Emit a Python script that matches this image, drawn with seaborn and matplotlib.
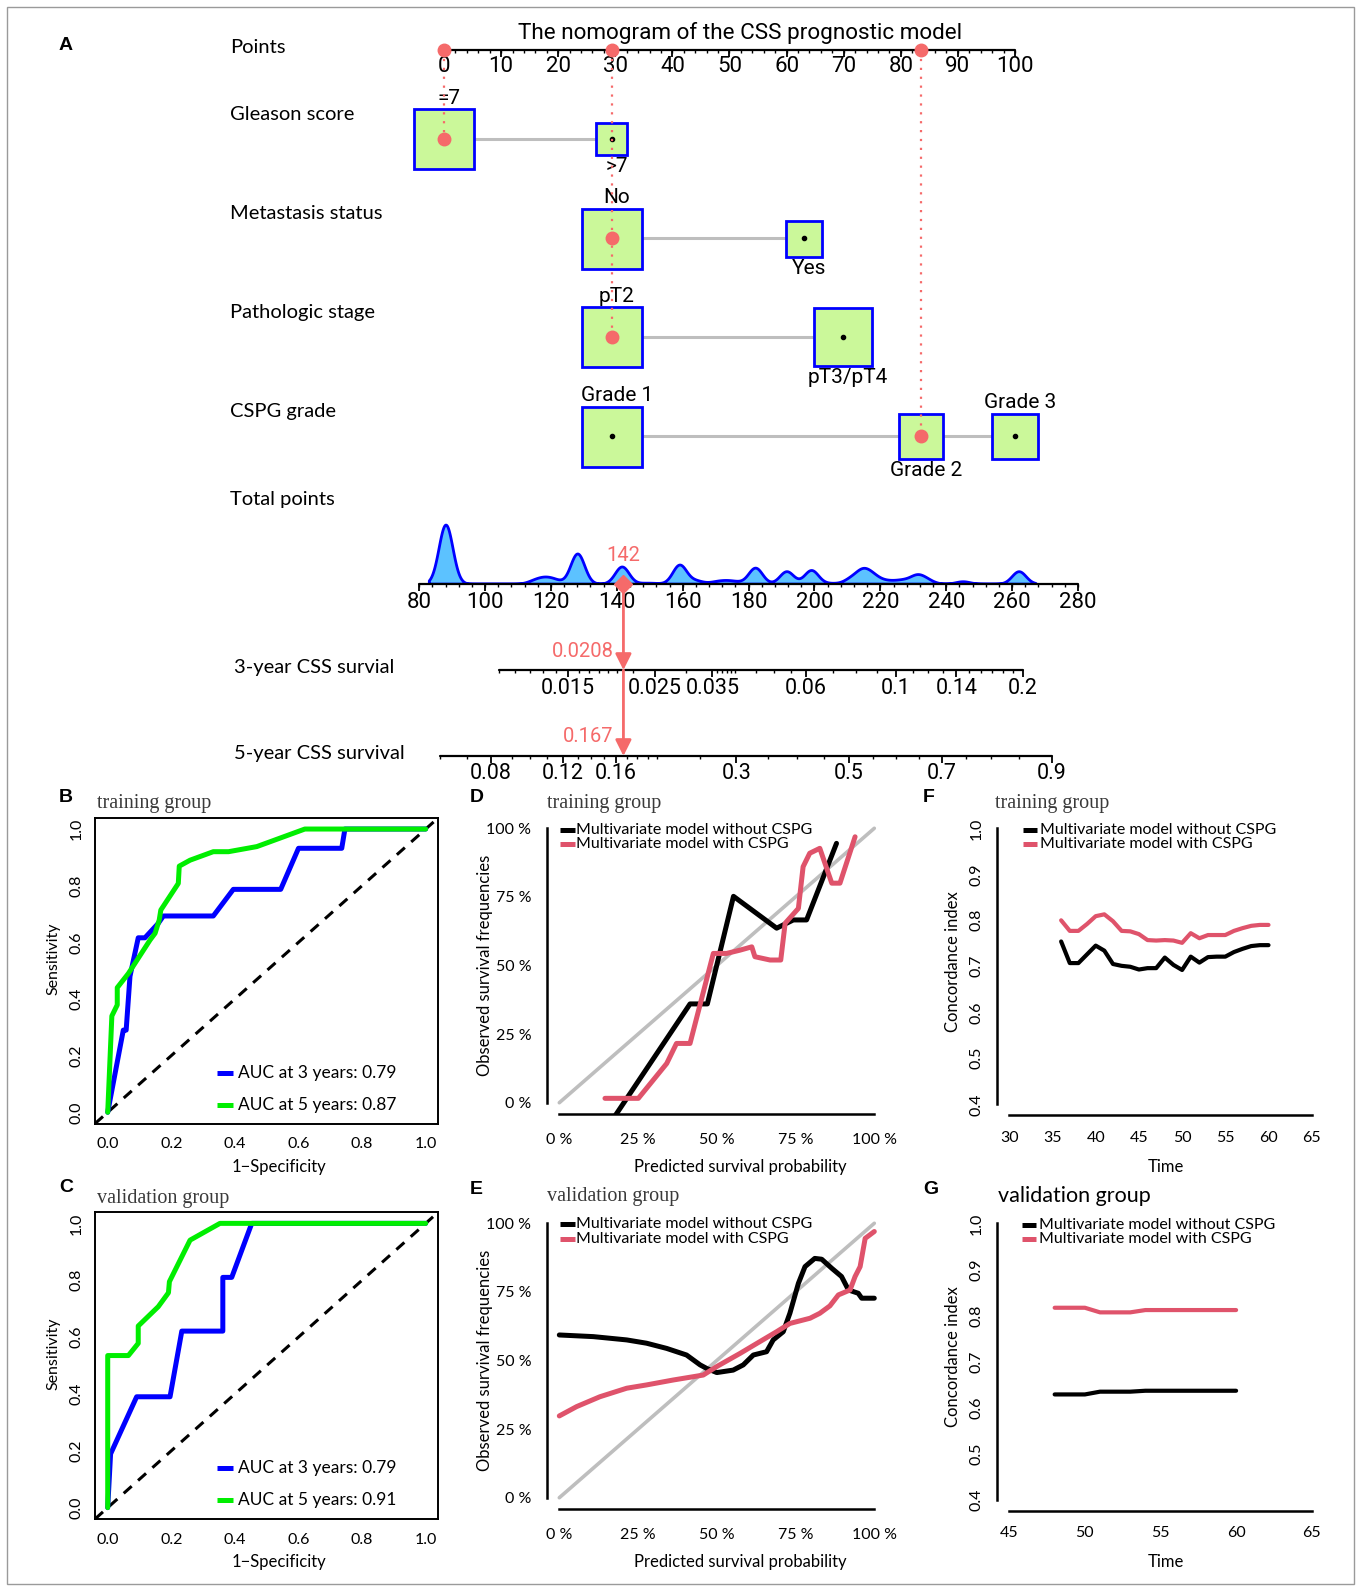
import numpy as np
import pandas as pd
import matplotlib
matplotlib.use("Agg")
import matplotlib.pyplot as plt
from matplotlib.lines import Line2D
from matplotlib.patches import Rectangle
import seaborn as sns

# ======================= DATA =======================
nomogram_title = "The nomogram of the CSS prognostic model"
points_ticks = [0, 10, 20, 30, 40, 50, 60, 70, 80, 90, 100]

row_names = ["Gleason score", "Metastasis status", "Pathologic stage", "CSPG grade"]
gleason_levels = ["=7", ">7"]
gleason_points = [0.0, 29.4]
gleason_box = [1.0, 0.52]
metastasis_levels = ["No", "Yes"]
metastasis_points = [29.4, 63.0]
metastasis_box = [1.0, 0.60]
stage_levels = ["pT2", "pT3/pT4"]
stage_points = [29.4, 69.9]
stage_box = [1.0, 0.97]
cspg_levels = ["Grade 1", "Grade 2", "Grade 3"]
cspg_points = [29.4, 83.5, 100.0]
cspg_box = [1.0, 0.74, 0.76]
selected_level = [0, 0, 0, 1]

total_ticks = [80, 100, 120, 140, 160, 180, 200, 220, 240, 260, 280]
total_values = [88, 115, 118, 121, 128, 141.5, 148, 151, 159, 164, 170, 173, 176, 182,
                191.5, 199, 205, 211, 214.5, 217.5, 221, 224, 227, 231, 234, 245, 262]
total_counts = [100, 5, 8, 6, 51, 29, 1, 1, 32, 5, 3, 4, 3, 27,
                21, 23, 1, 8, 20, 12, 4, 3, 5, 13, 6, 4, 21]
total_selected = 142
surv3_selected = "0.0208"
surv5_selected = "0.167"
surv3_labels = [0.015, 0.025, 0.035, 0.06, 0.1, 0.14, 0.2]
surv3_minor = [0.01, 0.011, 0.012, 0.013, 0.014, 0.016, 0.017, 0.018, 0.019, 0.02, 0.022,
               0.03, 0.036, 0.037, 0.038, 0.039, 0.04, 0.045, 0.05, 0.055, 0.07, 0.08,
               0.09, 0.11, 0.12, 0.13, 0.15, 0.16, 0.17, 0.18, 0.19]
surv5_labels = [0.08, 0.12, 0.16, 0.3, 0.5, 0.7, 0.9]
surv5_minor = [0.06, 0.07, 0.09, 0.1, 0.11, 0.13, 0.14, 0.15, 0.17, 0.18, 0.19, 0.2,
               0.25, 0.35, 0.4, 0.45, 0.55, 0.6, 0.65, 0.75, 0.8, 0.85]

# ROC (B: training, C: validation)
b_fpr3 = [0, 0.049, 0.058, 0.07, 0.096, 0.117, 0.159, 0.175, 0.332, 0.395, 0.544, 0.60, 0.736, 0.746, 1.0]
b_tpr3 = [0, 0.29, 0.29, 0.48, 0.616, 0.616, 0.667, 0.693, 0.693, 0.787, 0.787, 0.932, 0.932, 1.0, 1.0]
b_fpr5 = [0, 0.013, 0.03, 0.03, 0.065, 0.133, 0.149, 0.162, 0.167, 0.222, 0.225, 0.259, 0.332, 0.38, 0.469, 0.62, 1.0]
b_tpr5 = [0, 0.34, 0.379, 0.44, 0.49, 0.608, 0.632, 0.679, 0.714, 0.808, 0.869, 0.89, 0.92, 0.92, 0.938, 1.0, 1.0]
c_fpr3 = [0, 0.009, 0.091, 0.196, 0.233, 0.362, 0.362, 0.39, 0.453, 1.0]
c_tpr3 = [0, 0.189, 0.39, 0.39, 0.621, 0.621, 0.81, 0.81, 1.0, 1.0]
c_fpr5 = [0, 0, 0.065, 0.096, 0.096, 0.159, 0.191, 0.194, 0.259, 0.353, 1.0]
c_tpr5 = [0, 0.535, 0.535, 0.578, 0.639, 0.707, 0.756, 0.795, 0.941, 1.0, 1.0]
auc_train = ["0.79", "0.87"]
auc_valid = ["0.79", "0.91"]

# Calibration (D: training, E: validation)
d_pred_without = [0.17, 0.415, 0.47, 0.553, 0.69, 0.743, 0.785, 0.88]
d_obs_without = [-0.06, 0.36, 0.36, 0.752, 0.636, 0.666, 0.666, 0.945]
d_pred_with = [0.145, 0.251, 0.341, 0.372, 0.415, 0.489, 0.531, 0.574, 0.611, 0.621,
               0.669, 0.703, 0.717, 0.759, 0.774, 0.795, 0.827, 0.865, 0.891, 0.939]
d_obs_with = [0.016, 0.016, 0.143, 0.216, 0.216, 0.544, 0.544, 0.556, 0.568, 0.532,
              0.52, 0.52, 0.654, 0.708, 0.86, 0.909, 0.927, 0.8, 0.8, 0.969]
e_pred_without = [0, 0.108, 0.214, 0.277, 0.341, 0.404, 0.447, 0.468, 0.5, 0.552, 0.584, 0.616, 0.658,
                  0.679, 0.711, 0.732, 0.759, 0.78, 0.811, 0.833, 0.865, 0.896, 0.918, 0.949, 0.96, 1.0]
e_obs_without = [0.593, 0.587, 0.575, 0.563, 0.544, 0.52, 0.484, 0.471, 0.456, 0.465, 0.484, 0.52, 0.532,
                 0.575, 0.605, 0.672, 0.781, 0.842, 0.872, 0.869, 0.836, 0.806, 0.757, 0.745, 0.727, 0.727]
e_pred_with = [0, 0.055, 0.129, 0.214, 0.277, 0.362, 0.457, 0.5, 0.574, 0.637, 0.69,
               0.732, 0.796, 0.827, 0.859, 0.886, 0.923, 0.939, 0.955, 0.971, 1.0]
e_obs_with = [0.298, 0.332, 0.368, 0.399, 0.411, 0.429, 0.447, 0.478, 0.526, 0.569, 0.605,
              0.635, 0.654, 0.672, 0.699, 0.739, 0.757, 0.806, 0.842, 0.945, 0.97]

# C-index over time (F: training, G: validation)
f_time = list(range(36, 61))
f_cindex_without = [0.754, 0.707, 0.707, 0.726, 0.745, 0.734, 0.705, 0.701, 0.699, 0.693, 0.696, 0.696, 0.719,
                    0.703, 0.692, 0.721, 0.708, 0.720, 0.721, 0.721, 0.731, 0.738, 0.744, 0.746, 0.746]
f_cindex_with = [0.800, 0.777, 0.777, 0.792, 0.809, 0.813, 0.798, 0.777, 0.776, 0.770, 0.757, 0.756, 0.757,
                 0.756, 0.751, 0.772, 0.761, 0.768, 0.768, 0.768, 0.777, 0.783, 0.788, 0.790, 0.790]
g_time = list(range(48, 61))
g_cindex_without = [0.629, 0.629, 0.629, 0.635, 0.635, 0.635, 0.637, 0.637, 0.637, 0.637, 0.637, 0.637, 0.637]
g_cindex_with = [0.817, 0.817, 0.817, 0.807, 0.807, 0.807, 0.812, 0.812, 0.812, 0.812, 0.812, 0.812, 0.812]
model_names = ["Multivariate model without CSPG", "Multivariate model with CSPG"]

# ======================= STYLE =======================
sns.set_theme(style="white")
plt.rcParams["font.family"] = ["Lato", "DejaVu Sans"]
for k in ["text.color", "axes.labelcolor", "xtick.color", "ytick.color", "axes.edgecolor"]:
    plt.rcParams[k] = "black"

NARROW = "Roboto"
SERIF = "Liberation Serif"
BOLD = "Liberation Sans"
FS_NUM = 16.0     # axis numbers on nomogram
FS_SURV = 15.5
FS_CAT = 15.0
FS_RED = 14.5
FS_TITLE = 16.2
FS_ROW = 14.5

RED = "#F56A6A"
BOX_FILL = "#CBF89A"
BLUE = "#0000FF"
GREEN = "#00EE00"
PINK = "#DF536B"
GREY = "#BEBEBE"
DENS_FILL = "#5CC2FF"

W, H = 1357, 1591
fig = plt.figure(figsize=(W / 100, H / 100), dpi=100)
fig.patch.set_facecolor("white")


def px_axes(l, t, r, b):
    return fig.add_axes([l / W, 1 - b / H, (r - l) / W, (b - t) / H])


def ftext(x, y, s, **kw):
    return fig.text(x / W, 1 - y / H, s, **kw)


fig.add_artist(Rectangle((7 / W, 1 - 1584 / H), 1347 / W, 1577 / H, transform=fig.transFigure,
                         fill=False, edgecolor="#9a9a9a", lw=1))

# ======================= NOMOGRAM (A) =======================
PT_PX0, PT_K = 444.0, 5.71      # pixel of 0 points, pixels per point
TP_PX0, TP_K = 419.2, 3.294     # pixel of 80 total points, pixels per total point
SURV_SLOPE = 51.3
SURV3_INT, SURV5_INT = 340.1, 229.2


def tp2x(tp):
    return (TP_PX0 + TP_K * (np.asarray(tp, dtype=float) - 80) - PT_PX0) / PT_K


def surv2tp(p, intercept):
    return intercept + SURV_SLOPE * np.log(-np.log(1 - np.asarray(p, dtype=float)))


def dx(px):
    return px / PT_K


Y_PTS, Y_PTS_LAB = 49.7, 66.5
ROW_LABEL_Y = [114.7, 213.2, 312.6, 411.0]
ROW_BOX_Y = [139.0, 238.5, 337.0, 436.5]
Y_TOT, Y_TOT_LAB = 583.6, 602.5
Y_S3, Y_S3_LAB = 670.0, 688.5
Y_S5, Y_S5_LAB = 756.0, 773.5
BOX_MAX = 60.0

# density strip (drawn first so the nomogram axes sits on top)
axd = px_axes(0, Y_TOT - 64, W, Y_TOT)
vals = np.array(total_values, float)
cnts = np.array(total_counts, float)
mu = np.average(vals, weights=cnts)
sd = np.sqrt(np.average((vals - mu) ** 2, weights=cnts))
sns.kdeplot(x=total_values, weights=total_counts, bw_method=2.0 / sd, gridsize=4000,
            clip=(80, 280), fill=True, facecolor=DENS_FILL, edgecolor=BLUE,
            linewidth=2, alpha=1, ax=axd)
coll = axd.collections[0]
coll.set_facecolor(DENS_FILL)
coll.set_edgecolor(BLUE)
coll.set_alpha(1)
coll.set_linewidth(2)
ymax = max(p.vertices[:, 1].max() for p in coll.get_paths())
axd.set_ylim(0, ymax * 64 / 59)
axd.set_xlim(80 - TP_PX0 / TP_K, 80 + (W - TP_PX0) / TP_K)
axd.axis("off")

ax = px_axes(0, 0, W, 790)
ax.set_xlim(-PT_PX0 / PT_K, (W - PT_PX0) / PT_K)
ax.set_ylim(790, 0)
ax.axis("off")

ftext(59, 46, "A", fontsize=14, fontweight="bold", family=BOLD, ha="left", va="center")
ftext(740, 32.5, nomogram_title, fontsize=FS_TITLE, family=NARROW, ha="center", va="center")

labels_left = [("Points", 230.4, 47.7)] + [(n, 230.4, y) for n, y in zip(row_names, ROW_LABEL_Y)] + \
    [("Total points", 230.4, 499.4), ("3-year CSS survial", 234.5, 667.0), ("5-year CSS survival", 234.5, 753.0)]
for s, x, y in labels_left:
    ftext(x, y, s, fontsize=FS_ROW, ha="left", va="center")

# points axis
ax.plot([0, 100], [Y_PTS, Y_PTS], color="black", lw=1.6, zorder=3)
ax.vlines(np.arange(0, 101, 2), Y_PTS, Y_PTS + 3.5, color="black", lw=1.0, zorder=3)
ax.vlines(points_ticks, Y_PTS, Y_PTS + 7, color="black", lw=1.3, zorder=3)
for v in points_ticks:
    ax.text(v, Y_PTS_LAB, str(v), fontsize=FS_NUM, family=NARROW, ha="center", va="center")

# category rows
rows = [(gleason_levels, gleason_points, gleason_box),
        (metastasis_levels, metastasis_points, metastasis_box),
        (stage_levels, stage_points, stage_box),
        (cspg_levels, cspg_points, cspg_box)]
sel_x = []
for r, ((levels, pts, rel), yb) in enumerate(zip(rows, ROW_BOX_Y)):
    ax.plot([min(pts), max(pts)], [yb, yb], color=GREY, lw=2.2, zorder=1)
    for i, (lev, p, s) in enumerate(zip(levels, pts, rel)):
        side = BOX_MAX * s
        ax.add_patch(Rectangle((p - dx(side) / 2, yb - side / 2), dx(side), side,
                               facecolor=BOX_FILL, edgecolor=BLUE, lw=2, zorder=2))
        if i == selected_level[r]:
            sel_x.append((p, yb))
        else:
            ax.plot(p, yb, "o", color="black", ms=3, zorder=4)
        if i % 2 == 0:
            ax.text(p + dx(5), yb - side / 2 - 1.5, lev, fontsize=FS_CAT, family=NARROW,
                    ha="center", va="bottom")
        else:
            ax.text(p + dx(5), yb + side / 2 + 2, lev, fontsize=FS_CAT, family=NARROW,
                    ha="center", va="top")

# red dotted guide lines and dots
for xv in sorted(set(p for p, _ in sel_x)):
    ybottom = max(yb for p, yb in sel_x if p == xv)
    ax.plot([xv, xv], [Y_PTS, ybottom], color=RED, lw=1.6, ls=(0, (1, 3)), zorder=5)
    ax.plot(xv, Y_PTS, "o", color=RED, ms=9, zorder=6)
for p, yb in sel_x:
    ax.plot(p, yb, "o", color=RED, ms=9, zorder=6)

# total points axis
tx = tp2x(total_ticks)
ax.plot([tx[0], tx[-1]], [Y_TOT, Y_TOT], color="black", lw=1.6, zorder=3)
ax.vlines(tp2x(np.arange(80, 281, 4)), Y_TOT, Y_TOT + 3.5, color="black", lw=1.0, zorder=3)
ax.vlines(tx, Y_TOT, Y_TOT + 7, color="black", lw=1.3, zorder=3)
for v, xv in zip(total_ticks, tx):
    ax.text(xv, Y_TOT_LAB, str(v), fontsize=FS_NUM, family=NARROW, ha="center", va="center")


def surv_axis(y, ylab, labels, minor, intercept, lo, hi):
    x0, x1 = tp2x(surv2tp([lo, hi], intercept))
    ax.plot([x0, x1], [y, y], color="black", lw=1.6, zorder=3)
    ax.vlines(tp2x(surv2tp(minor, intercept)), y, y + 3.5, color="black", lw=1.0, zorder=3)
    lx = tp2x(surv2tp(labels, intercept))
    ax.vlines(lx, y, y + 7, color="black", lw=1.3, zorder=3)
    for v, xv in zip(labels, lx):
        ax.text(xv, ylab, f"{v:g}", fontsize=FS_SURV, family=NARROW, ha="center", va="center")


surv_axis(Y_S3, Y_S3_LAB, surv3_labels, surv3_minor, SURV3_INT, 0.01, 0.2)
surv_axis(Y_S5, Y_S5_LAB, surv5_labels, surv5_minor, SURV5_INT, 0.06, 0.9)

xs = float(tp2x(total_selected))
ax.plot(xs, Y_TOT, marker="D", color=RED, ms=9, zorder=7)
for ya, yb in [(Y_TOT, Y_S3), (Y_S3, Y_S5)]:
    ax.annotate("", xy=(xs, yb), xytext=(xs, ya),
                arrowprops=dict(arrowstyle="-|>", color=RED, lw=2, mutation_scale=24,
                                shrinkA=0, shrinkB=0), zorder=7)
ax.text(xs, 555.5, str(total_selected), color=RED, fontsize=FS_RED, family=NARROW,
        ha="center", va="center")
ax.text(xs - dx(10), 651.6, surv3_selected, color=RED, fontsize=FS_RED, family=NARROW,
        ha="right", va="center")
ax.text(xs - dx(10), 737.0, surv5_selected, color=RED, fontsize=FS_RED, family=NARROW,
        ha="right", va="center")


# ======================= helper for bottom panels =======================
def legend_px(xh0, xh1, xt, ys, labels, colors, fs, lw):
    for y, lab, c in zip(ys, labels, colors):
        fig.add_artist(Line2D([xh0 / W, xh1 / W], [1 - y / H, 1 - y / H], transform=fig.transFigure,
                              color=c, lw=lw, solid_capstyle="butt"))
        ftext(xt, y, lab, fontsize=fs, ha="left", va="center")


def line(axx, x, y, c, lw):
    sns.lineplot(x=x, y=y, sort=False, estimator=None, color=c, linewidth=lw,
                 legend=False, ax=axx)


# ======================= ROC panels (B, C) =======================
def roc_panel(box, f3, t3, f5, t5, aucs, letter, letter_y, title, title_y, leg_y, xl_y, yl_y):
    a = px_axes(*box)
    a.axline((0, 0), (1, 1), color="black", lw=2.2, ls=(0, (3.5, 2.8)))
    line(a, f3, t3, BLUE, 3.6)
    line(a, f5, t5, GREEN, 3.6)
    a.set_xlim(-0.04, 1.04)
    a.set_ylim(-0.04, 1.04)
    for sp in a.spines.values():
        sp.set_visible(True)
        sp.set_linewidth(1.4)
        sp.set_color("black")
    tk = [0, 0.2, 0.4, 0.6, 0.8, 1.0]
    a.set_xticks(tk, [f"{v:.1f}" for v in tk])
    a.set_yticks(tk, [f"{v:.1f}" for v in tk], rotation=90, va="center")
    a.tick_params(axis="both", direction="out", length=5, width=1.2, labelsize=11.5)
    a.tick_params(axis="x", pad=5)
    a.tick_params(axis="y", pad=3)
    a.set_xlabel("")
    a.set_ylabel("")
    ftext(59, letter_y, letter, fontsize=14, fontweight="bold", family=BOLD, ha="left", va="center")
    ftext(96.7, title_y, title, fontsize=14.5, family=SERIF, color="#3a3a3a", ha="left", va="center")
    legend_px(216.7, 233.3, 237.7, leg_y, [f"AUC at 3 years: {aucs[0]}", f"AUC at 5 years: {aucs[1]}"],
              [BLUE, GREEN], 12.5, 3.6)
    ftext(279, xl_y, "1\u2212Specificity", fontsize=12, ha="center", va="center")
    ftext(53.3, yl_y, "Sensitivity", fontsize=11.5, ha="center", va="center", rotation=90)


roc_panel((95, 817.7, 438.4, 1123.6), b_fpr3, b_tpr3, b_fpr5, b_tpr5, auc_train, "B", 797,
          "training group", 803, [1073.3, 1105], 1166.7, 959)
roc_panel((95, 1212, 438.4, 1519), c_fpr3, c_tpr3, c_fpr5, c_tpr5, auc_valid, "C", 1187,
          "validation group", 1198, [1467.7, 1500], 1561.7, 1354)


# ======================= Calibration panels (D, E) =======================
def calib_panel(box, xw, yw, xc, yc, letter, letter_y, title, title_y, leg_y, xl_y, yl_y):
    a = px_axes(*box)
    a.plot([0, 1], [0, 1], color=GREY, lw=2.6)
    line(a, xw, yw, "black", 3.6)
    line(a, xc, yc, PINK, 3.6)
    a.set_xlim(-0.04, 1.04)
    a.set_ylim(-0.04, 1.04)
    for s in ["top", "right"]:
        a.spines[s].set_visible(False)
    for s in ["left", "bottom"]:
        a.spines[s].set_visible(True)
        a.spines[s].set_linewidth(1.8)
        a.spines[s].set_bounds(0, 1)
    tk = [0, 0.25, 0.5, 0.75, 1.0]
    lab = ["0 %", "25 %", "50 %", "75 %", "100 %"]
    a.set_xticks(tk, lab)
    a.set_yticks(tk, lab)
    a.tick_params(axis="both", direction="out", length=6, width=1.6, labelsize=11.5)
    a.tick_params(axis="x", pad=8)
    a.tick_params(axis="y", pad=5)
    a.set_xlabel("")
    a.set_ylabel("")
    ftext(470, letter_y, letter, fontsize=14, fontweight="bold", family=BOLD, ha="left", va="center")
    ftext(546.7, title_y, title, fontsize=14.5, family=SERIF, color="#3a3a3a", ha="left", va="center")
    legend_px(560, 575, 576, leg_y, model_names, ["black", PINK], 11.5, 3.6)
    ftext(740.8, xl_y, "Predicted survival probability", fontsize=12, ha="center", va="center")
    ftext(485, yl_y, "Observed survival frequencies", fontsize=12, ha="center", va="center", rotation=90)


calib_panel((546.7, 817.3, 886.9, 1113.7), d_pred_without, d_obs_without, d_pred_with, d_obs_with,
            "D", 797, "training group", 803, [830, 844], 1166.7, 965)
calib_panel((546.7, 1212.3, 886.9, 1508.7), e_pred_without, e_obs_without, e_pred_with, e_obs_with,
            "E", 1190, "validation group", 1197, [1224.3, 1239], 1561.7, 1360.7)


# ======================= C-index panels (F, G) =======================
def cindex_panel(box, t, cw, cc, xmin, xmax, letter, letter_y, title, title_y, title_kw,
                 leg_x, leg_y, xl_y, yl_y):
    a = px_axes(*box)
    pad = (xmax - xmin) * 0.04
    a.axhline(0.5, color=GREY, lw=3.6, ls=(0, (0, 5)), dash_capstyle="round")
    line(a, t, cw, "black", 3.0)
    line(a, t, cc, PINK, 3.0)
    a.set_xlim(xmin - pad, xmax + pad)
    a.set_ylim(0.376, 1.024)
    for s in ["top", "right"]:
        a.spines[s].set_visible(False)
    a.spines["left"].set_visible(True)
    a.spines["bottom"].set_visible(True)
    a.spines["left"].set_linewidth(1.8)
    a.spines["bottom"].set_linewidth(1.8)
    a.spines["left"].set_bounds(0.4, 1.0)
    a.spines["bottom"].set_bounds(xmin, xmax)
    yt = [0.4, 0.5, 0.6, 0.7, 0.8, 0.9, 1.0]
    xt = list(range(xmin, xmax + 1, 5))
    a.set_xticks(xt, [str(v) for v in xt])
    a.set_yticks(yt, [f"{v:.1f}" for v in yt], rotation=90, va="center")
    a.tick_params(axis="both", direction="out", length=5, width=1.6, labelsize=11.5)
    a.tick_params(axis="x", pad=6)
    a.tick_params(axis="y", pad=5)
    a.set_xlabel("")
    a.set_ylabel("")
    ftext(923, letter_y, letter, fontsize=14, fontweight="bold", family=BOLD, ha="left", va="center")
    ftext(title_kw.pop("x"), title_y, title, ha="left", va="center", **title_kw)
    legend_px(leg_x, leg_x + 14, leg_x + 17, leg_y, model_names, ["black", PINK], 11.5, 3.6)
    ftext(1165.8, xl_y, "Time", fontsize=12, ha="center", va="center")
    ftext(953.3, yl_y, "Concordance index", fontsize=12, ha="center", va="center", rotation=90)


cindex_panel((997.2, 817.3, 1323.8, 1115.3), f_time, f_cindex_without, f_cindex_with, 30, 65,
             "F", 797, "training group", 803,
             dict(x=995, fontsize=14.5, family=SERIF, color="#3a3a3a"),
             1023, [830, 844], 1166.7, 961.7)
cindex_panel((997.2, 1212.3, 1323.8, 1511.1), g_time, g_cindex_without, g_cindex_with, 45, 65,
             "G", 1190, "validation group", 1196,
             dict(x=998, fontsize=15.5),
             1021.7, [1225, 1239], 1561.7, 1356.7)

fig.savefig("out.png", dpi=100, facecolor="white")
